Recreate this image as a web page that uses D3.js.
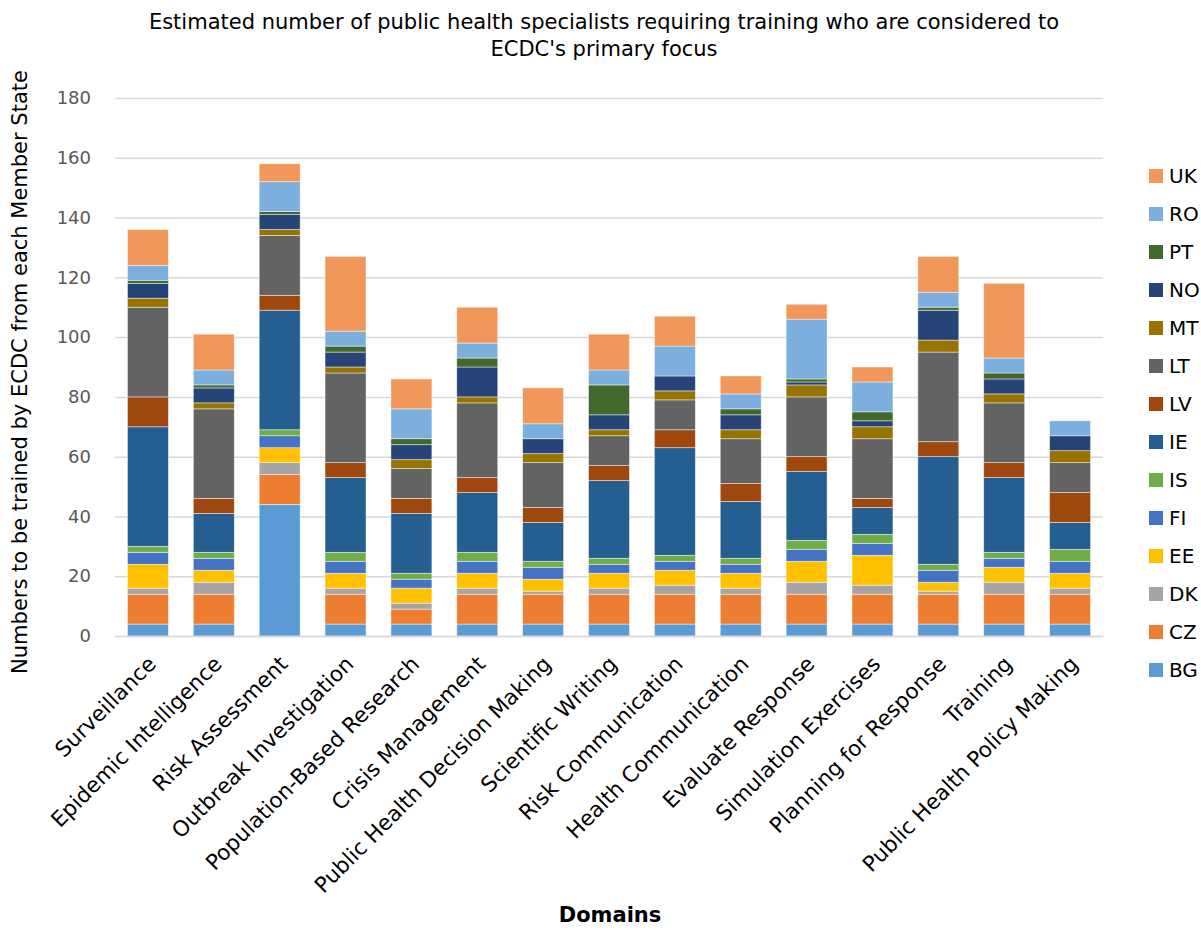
<!DOCTYPE html>
<html>
<head>
<meta charset="utf-8">
<script src="https://cdn.jsdelivr.net/npm/d3@7/dist/d3.min.js"></script>
<style>
  html, body { margin: 0; padding: 0; background: #fff; }
  svg { display: block; font-family: "DejaVu Sans", Verdana, sans-serif; }
</style>
</head>
<body>
<svg id="chart" width="1201" height="930"></svg>
<script>
// Training domains (x axis)
const categories = [
  "Surveillance", "Epidemic Intelligence", "Risk Assessment", "Outbreak Investigation",
  "Population-Based Research", "Crisis Management", "Public Health Decision Making",
  "Scientific Writing", "Risk Communication", "Health Communication", "Evaluate Response",
  "Simulation Exercises", "Planning for Response", "Training", "Public Health Policy Making"
];

// Member states, in stacking order (bottom to top)
const countries = ["BG", "CZ", "DK", "EE", "FI", "IS", "IE", "LV", "LT", "MT", "NO", "PT", "RO", "UK"];

// Specialists to be trained, per member state, one value per domain
const BG = [4, 4, 44, 4, 4, 4, 4, 4, 4, 4, 4, 4, 4, 4, 4];
const CZ = [10, 10, 10, 10, 5, 10, 10, 10, 10, 10, 10, 10, 10, 10, 10];
const DK = [2, 4, 4, 2, 2, 2, 1, 2, 3, 2, 4, 3, 1, 4, 2];
const EE = [8, 4, 5, 5, 5, 5, 4, 5, 5, 5, 7, 10, 3, 5, 5];
const FI = [4, 4, 4, 4, 3, 4, 4, 3, 3, 3, 4, 4, 4, 3, 4];
const IS = [2, 2, 2, 3, 2, 3, 2, 2, 2, 2, 3, 3, 2, 2, 4];
const IE = [40, 13, 40, 25, 20, 20, 13, 26, 36, 19, 23, 9, 36, 25, 9];
const LV = [10, 5, 5, 5, 5, 5, 5, 5, 6, 6, 5, 3, 5, 5, 10];
const LT = [30, 30, 20, 30, 10, 25, 15, 10, 10, 15, 20, 20, 30, 20, 10];
const MT = [3, 2, 2, 2, 3, 2, 3, 2, 3, 3, 4, 4, 4, 3, 4];
const NO = [5, 5, 5, 5, 5, 10, 5, 5, 5, 5, 1, 2, 10, 5, 5];
const PT = [1, 1, 1, 2, 2, 3, 0, 10, 0, 2, 1, 3, 1, 2, 0];
const RO = [5, 5, 10, 5, 10, 5, 5, 5, 10, 5, 20, 10, 5, 5, 5];
const UK = [12, 12, 6, 25, 10, 12, 12, 12, 10, 6, 5, 5, 12, 25, 0];

// Y axis ticks
const yTicks = [0, 20, 40, 60, 80, 100, 120, 140, 160, 180];

const seriesValues = { BG, CZ, DK, EE, FI, IS, IE, LV, LT, MT, NO, PT, RO, UK };

const colors = {
  BG: "#5B9BD5", CZ: "#ED7D31", DK: "#A5A5A5", EE: "#FFC000", FI: "#4472C4",
  IS: "#70AD47", IE: "#255E91", LV: "#9E480E", LT: "#636363", MT: "#997300",
  NO: "#264478", PT: "#43682B", RO: "#7CAFDD", UK: "#F1975A"
};

// Rows for d3.stack
const rows = categories.map((c, i) => {
  const r = { domain: c };
  countries.forEach(k => { r[k] = seriesValues[k][i]; });
  return r;
});

const svg = d3.select("#chart");
const plot = { left: 115, right: 1103, top: 98, bottom: 636 };

const x = d3.scaleBand()
  .domain(categories)
  .range([plot.left, plot.right])
  .paddingInner(0.378)
  .paddingOuter(0.189);

const y = d3.scaleLinear()
  .domain([0, 180])
  .range([plot.bottom, plot.top]);

// Title
const titleLines = [
  "Estimated number of public health specialists requiring training who are considered to",
  "ECDC's primary focus"
];
svg.append("g").selectAll("text")
  .data(titleLines)
  .join("text")
  .attr("x", 604).attr("y", (d, i) => 29 + i * 27)
  .attr("text-anchor", "middle")
  .attr("font-size", 21).attr("fill", "#000")
  .text(d => d);

// Gridlines and tick labels
const yAxis = d3.axisLeft(y).tickValues(yTicks).tickSize(-(plot.right - plot.left)).tickPadding(24);
const gy = svg.append("g").attr("transform", `translate(${plot.left},0)`).call(yAxis);
gy.select(".domain").remove();
gy.selectAll(".tick line").attr("stroke", "#d9d9d9").attr("stroke-width", 1.5);
gy.selectAll(".tick text")
  .attr("font-size", 18).attr("fill", "#595959")
  .attr("font-family", "DejaVu Sans, sans-serif");

// Stacked bars
const stacked = d3.stack().keys(countries)(rows);
svg.append("g").selectAll("g")
  .data(stacked)
  .join("g")
  .attr("fill", d => colors[d.key])
  .selectAll("rect")
  .data(d => d)
  .join("rect")
  .attr("x", d => x(d.data.domain))
  .attr("width", x.bandwidth())
  .attr("y", d => y(d[1]))
  .attr("height", d => y(d[0]) - y(d[1]))
  .attr("stroke", "#ffffff")
  .attr("stroke-opacity", 0.6)
  .attr("stroke-width", 0.75);

// Category axis labels
const xAxis = d3.axisBottom(x).tickSize(0).tickPadding(0);
const gx = svg.append("g").attr("transform", `translate(0,${plot.bottom})`).call(xAxis);
gx.select(".domain").attr("stroke", "#d9d9d9").attr("stroke-width", 1.5);
gx.selectAll(".tick text")
  .attr("font-size", 21.5).attr("fill", "#000")
  .attr("font-family", "DejaVu Sans, sans-serif")
  .attr("text-anchor", "end")
  .attr("dy", "0.35em")
  .attr("transform", "translate(4,24) rotate(-45)");

// Axis titles
svg.append("text")
  .attr("transform", "translate(27,372) rotate(-90)")
  .attr("text-anchor", "middle")
  .attr("font-size", 21).attr("fill", "#000")
  .text("Numbers to be trained by ECDC from each Member State");

svg.append("text")
  .attr("x", 610).attr("y", 922)
  .attr("text-anchor", "middle")
  .attr("font-size", 21).attr("font-weight", "bold").attr("fill", "#000")
  .text("Domains");

// Legend (top entry is the last stacked series)
const legendKeys = countries.slice().reverse();
const lg = svg.append("g").selectAll("g")
  .data(legendKeys)
  .join("g")
  .attr("transform", (d, i) => `translate(1149,${176 + i * 38})`);
lg.append("rect")
  .attr("x", 0).attr("y", -7).attr("width", 14).attr("height", 14)
  .attr("fill", d => colors[d]);
lg.append("text")
  .attr("x", 20).attr("y", 0).attr("dy", "0.36em")
  .attr("font-size", 20).attr("fill", "#000")
  .text(d => d);
</script>
</body>
</html>
